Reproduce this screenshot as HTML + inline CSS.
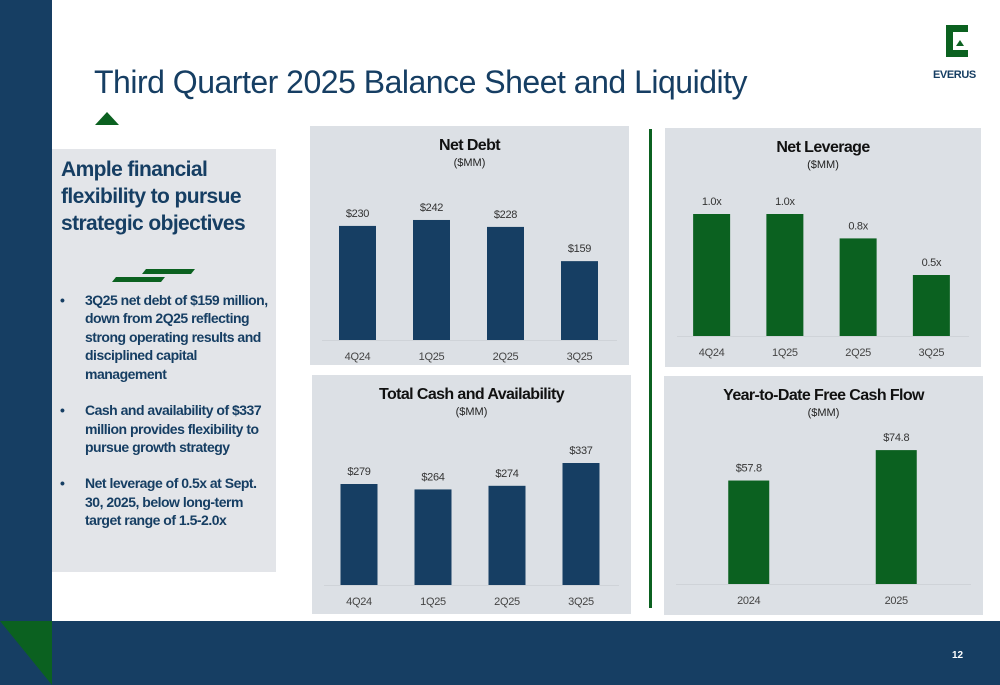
<!DOCTYPE html>
<html><head><meta charset="utf-8"><style>
html,body{margin:0;padding:0;width:1000px;height:685px;overflow:hidden;background:#fff;font-family:"Liberation Sans",sans-serif}
svg text{font-family:"Liberation Sans",sans-serif}
</style></head><body>
<svg id="page" width="1000" height="685" viewBox="0 0 1000 685" xmlns="http://www.w3.org/2000/svg">
<rect x="0" y="0" width="52" height="685" fill="#163e63"/>
<rect x="0" y="621" width="1000" height="64" fill="#163e63"/>
<polygon points="0,621 52,621 52,685" fill="#0b6120"/>
<text x="952" y="658" fill="#fff" font-size="10" font-weight="bold">12</text>
<text x="94" y="93" fill="#163e63" font-size="32" letter-spacing="-0.5">Third Quarter 2025 Balance Sheet and Liquidity</text>
<polygon points="95,125 107,112 119,125" fill="#0b6120"/>
<g>
<path d="M946,25 h22 v7 h-15 v18 h15 v7 h-22 z" fill="#0b6120"/>
<polygon points="956,46 960,40 964,46" fill="#0b6120"/>
<text x="933" y="78" fill="#163e63" font-size="11" font-weight="bold" letter-spacing="-0.4">EVERUS</text>
</g>
<rect x="52" y="149" width="224" height="423" fill="#e3e5e9"/>
<g fill="#163e63" font-weight="bold">
<text x="61" y="176" font-size="21" letter-spacing="-0.6">Ample financial</text>
<text x="61" y="203" font-size="21" letter-spacing="-0.6">flexibility to pursue</text>
<text x="61" y="230" font-size="21" letter-spacing="-0.6">strategic objectives</text>
</g>
<polygon points="146,269 195,269 191,274 142,274" fill="#0b6120"/>
<polygon points="116,277 165,277 161,282 112,282" fill="#0b6120"/>
<g fill="#163e63" font-weight="bold" font-size="14" letter-spacing="-0.5">
<text x="60" y="305">•</text><text x="85" y="305">3Q25 net debt of $159 million,</text>
<text x="85" y="323">down from 2Q25 reflecting</text>
<text x="85" y="342">strong operating results and</text>
<text x="85" y="360">disciplined capital</text>
<text x="85" y="379">management</text>
<text x="60" y="415">•</text><text x="85" y="415">Cash and availability of $337</text>
<text x="85" y="434">million provides flexibility to</text>
<text x="85" y="452">pursue growth strategy</text>
<text x="60" y="488">•</text><text x="85" y="488">Net leverage of 0.5x at Sept.</text>
<text x="85" y="507">30, 2025, below long-term</text>
<text x="85" y="525">target range of 1.5-2.0x</text>
</g>
<rect x="649" y="129" width="3" height="479" fill="#0b6120"/>
<g id="charts"></g>
</svg>
<script>
const quarters = ["4Q24","1Q25","2Q25","3Q25"];
const netDebtValues = [230,242,228,159];
const netDebtLabels = ["$230","$242","$228","$159"];
const leverageValues = [1.0,1.0,0.8,0.5];
const leverageLabels = ["1.0x","1.0x","0.8x","0.5x"];
const cashValues = [279,264,274,337];
const cashLabels = ["$279","$264","$274","$337"];
const fcfYears = ["2024","2025"];
const fcfValues = [57.8,74.8];
const fcfLabels = ["$57.8","$74.8"];

const NS = "http://www.w3.org/2000/svg";
const root = document.getElementById("charts");
function mk(tag, attrs, parent){const e=document.createElementNS(NS,tag);for(const k in attrs)e.setAttribute(k,attrs[k]);parent.appendChild(e);return e;}

function chart(cfg){
  const g = mk("g",{},root);
  
  
  const bg = mk("rect",{x:cfg.x,y:cfg.y,width:cfg.w,height:cfg.h,fill:"#dce0e5"},g);
  
  
  const cx = cfg.x + cfg.w/2;
  const t = mk("text",{x:cx,y:cfg.y+24,"text-anchor":"middle","font-size":16,"font-weight":"bold",fill:"#111","letter-spacing":"-0.6"},g);
  t.textContent = cfg.title;
  
  
  const st = mk("text",{x:cx,y:cfg.y+40,"text-anchor":"middle","font-size":11,fill:"#222"},g);
  st.textContent = "($MM)";
  
  
  const base = cfg.base;
  const ax = mk("line",{x1:cfg.x+12,x2:cfg.x+cfg.w-12,y1:base+0.5,y2:base+0.5,stroke:"#cfd3d8","stroke-width":1},g);
  
  
  const n = cfg.cats.length;
  const x0 = cfg.x + cfg.padL, x1 = cfg.x + cfg.w - cfg.padR;
  const step = (x1-x0)/n;
  const yScale = v => base - v*cfg.k;
  cfg.cats.forEach((c,i)=>{
    const mid = x0 + step*(i+0.5);
    const top = yScale(cfg.vals[i]);
    const b = mk("rect",{x:mid-cfg.bw/2,y:top,width:cfg.bw,height:base-top,fill:cfg.color},g);
    
    
    const vl = mk("text",{x:mid,y:top-9,"text-anchor":"middle","font-size":11,fill:"#333","letter-spacing":"-0.3"},g);
    vl.textContent = cfg.labels[i];
    
    
    const cl = mk("text",{x:mid,y:base+20,"text-anchor":"middle","font-size":11,fill:"#444","letter-spacing":"-0.3"},g);
    cl.textContent = c;
    
    
  });
}
chart({name:"net-debt-chart",title:"Net Debt",x:310,y:126,w:319,h:239,base:340,padL:10.5,padR:12.5,bw:37,k:0.496,cats:quarters,vals:netDebtValues,labels:netDebtLabels,color:"#163e63"});
chart({name:"net-leverage-chart",title:"Net Leverage",x:665,y:128,w:316,h:239,base:336,padL:10,padR:13,bw:37,k:122,cats:quarters,vals:leverageValues,labels:leverageLabels,color:"#0b6120"});
chart({name:"cash-availability-chart",title:"Total Cash and Availability",x:312,y:375,w:319,h:239,base:585,padL:10,padR:13,bw:37,k:0.362,cats:quarters,vals:cashValues,labels:cashLabels,color:"#163e63"});
chart({name:"free-cash-flow-chart",title:"Year-to-Date Free Cash Flow",x:664,y:376,w:319,h:239,base:584,padL:11,padR:13,bw:41,k:1.79,cats:fcfYears,vals:fcfValues,labels:fcfLabels,color:"#0b6120"});
</script>
</body></html>
